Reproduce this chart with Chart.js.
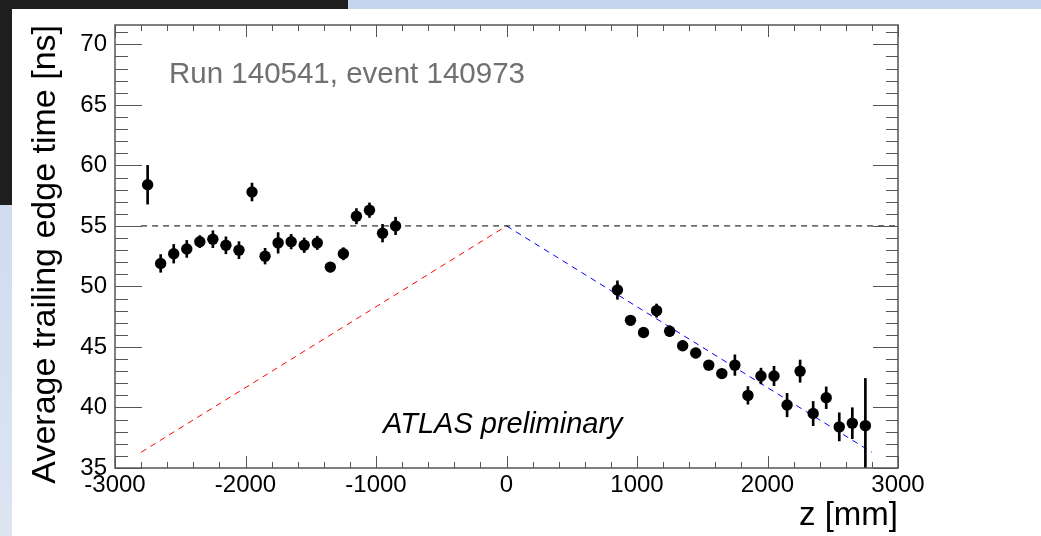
<!DOCTYPE html>
<html>
<head>
<meta charset="utf-8">
<script src="https://cdn.jsdelivr.net/npm/chart.js@4.4.1/dist/chart.umd.min.js"></script>
<style>
html, body { margin: 0; padding: 0; background: #fff; }
#wrap { position: relative; width: 1041px; height: 536px; overflow: hidden; background: #fff; }
.deco { position: absolute; }
#myChart { position: absolute; left: 0; top: 0; }
</style>
</head>
<body>
<div id="wrap">
  <div class="deco" style="left:0;top:0;width:348px;height:9px;background:#1e1e1e"></div>
  <div class="deco" style="left:348px;top:0;width:693px;height:9px;background:#c5d5ee"></div>
  <div class="deco" style="left:0;top:0;width:12px;height:205px;background:#1e1e1e"></div>
  <div class="deco" style="left:0;top:205px;width:12px;height:331px;background:linear-gradient(#cfdbef,#dde5f2)"></div>
  <canvas id="myChart" width="1041" height="536"></canvas>
</div>
<script>
// bin centres along z (mm)
const zValues = [-2750, -2650, -2550, -2450, -2350, -2250, -2150, -2050, -1950, -1850,
                 -1750, -1650, -1550, -1450, -1350, -1250, -1150, -1050, -950, -850,
                 850, 950, 1050, 1150, 1250, 1350, 1450, 1550, 1650, 1750,
                 1850, 1950, 2050, 2150, 2250, 2350, 2450, 2550, 2650, 2750];
// average trailing edge time (ns)
const tValues = [58.4, 51.9, 52.7, 53.1, 53.7, 53.9, 53.4, 53.0, 57.8, 52.5,
                 53.6, 53.7, 53.4, 53.6, 51.6, 52.7, 55.8, 56.3, 54.4, 55.0,
                 49.7, 47.2, 46.2, 48.0, 46.3, 45.1, 44.5, 43.5, 42.8, 43.5,
                 41.0, 42.6, 42.6, 40.2, 43.0, 39.5, 40.8, 38.4, 38.7, 38.5];
// errors (ns)
const tErrors = [1.6, 0.73, 0.77, 0.7, 0.5, 0.7, 0.7, 0.7, 0.74, 0.65,
                 0.85, 0.6, 0.6, 0.55, 0.4, 0.5, 0.63, 0.6, 0.73, 0.72,
                 0.76, 0.4, 0.4, 0.55, 0.45, 0.4, 0.4, 0.4, 0.4, 0.85,
                 0.73, 0.65, 0.8, 0.97, 0.92, 1.0, 0.9, 1.16, 1.28, 3.9];

// reference lines
const flatX = [-2800, 3000];
const flatY = [55, 55];
const redX = [-2800, 0];
const redY = [36.3, 55];
const blueX = [0, 2800];
const blueY = [55, 36.3];

const xTicks = [-3000, -2000, -1000, 0, 1000, 2000, 3000];
const yTicks = [35, 40, 45, 50, 55, 60, 65, 70];

const fam = "'Liberation Sans', Arial, Helvetica, sans-serif";
Chart.defaults.font.family = fam;

const toPts = (xs, ys) => xs.map((x, i) => ({ x: x, y: ys[i] }));

// ROOT style frame with ticks inside, plus the two text labels
const rootFrame = {
    id: 'rootFrame',
    afterDatasetsDraw(chart) {
        const { ctx, chartArea: a, scales: { x, y } } = chart;
        ctx.save();
        ctx.strokeStyle = '#555';
        ctx.lineWidth = 1;
        ctx.beginPath();
        for (let v = 35; v <= 71; v++) {
            const py = Math.round(y.getPixelForValue(v)) + 0.5;
            const major = v % 5 === 0;
            ctx.moveTo(a.left, py);
            ctx.lineTo(a.left + (major ? 27 : 13), py);
            ctx.moveTo(a.right, py);
            ctx.lineTo(a.right - (major ? 25 : 12), py);
        }
        for (let v = -3000; v <= 3000; v += 200) {
            const px = Math.round(x.getPixelForValue(v)) + 0.5;
            const len = v % 1000 === 0 ? 12 : 6;
            ctx.moveTo(px, a.bottom);
            ctx.lineTo(px, a.bottom - len);
            ctx.moveTo(px, a.top);
            ctx.lineTo(px, a.top + len);
        }
        ctx.stroke();
        ctx.lineWidth = 1.5;
        ctx.strokeRect(a.left, a.top, a.right - a.left, a.bottom - a.top);

        ctx.textBaseline = 'alphabetic';
        ctx.textAlign = 'left';
        ctx.fillStyle = '#707070';
        ctx.font = '29.5px ' + fam;
        ctx.fillText('Run 140541, event 140973', a.left + 54, a.top + 57.5);
        ctx.fillStyle = '#000';
        ctx.font = 'italic 29px ' + fam;
        ctx.fillText('ATLAS preliminary', a.left + 268, a.top + 408);
        ctx.restore();
    }
};

new Chart(document.getElementById('myChart'), {
    type: 'scatter',
    data: {
        datasets: [
            {
                label: 'Average time',
                data: toPts(zValues, tValues),
                backgroundColor: '#000',
                borderColor: '#000',
                borderWidth: 0,
                pointRadius: 5.7,
                pointHoverRadius: 5.7,
                order: 0
            },
            {
                type: 'bar',
                label: 'Error',
                data: zValues.map((z, i) => ({ x: z, y: [tValues[i] - tErrors[i], tValues[i] + tErrors[i]] })),
                backgroundColor: '#000',
                barThickness: 2,
                grouped: false,
                order: 1
            },
            {
                label: 'flat',
                data: toPts(flatX, flatY),
                showLine: true,
                borderColor: '#000',
                borderWidth: 1,
                borderDash: [6, 5],
                pointRadius: 0,
                order: 2
            },
            {
                label: 'red',
                data: toPts(redX, redY),
                showLine: true,
                borderColor: '#ff0000',
                borderWidth: 1,
                borderDash: [6, 5],
                pointRadius: 0,
                order: 2
            },
            {
                label: 'blue',
                data: toPts(blueX, blueY),
                showLine: true,
                borderColor: '#0000ff',
                borderWidth: 1,
                borderDash: [6, 5],
                pointRadius: 0,
                order: 2
            }
        ]
    },
    options: {
        responsive: false,
        animation: false,
        devicePixelRatio: 1,
        layout: { padding: { left: 0, top: 25, right: 143, bottom: 0 } },
        plugins: {
            legend: { display: false },
            tooltip: { enabled: false }
        },
        scales: {
            x: {
                type: 'linear',
                min: -3000,
                max: 3000,
                offset: false,
                grid: { display: false, drawTicks: false, offset: false },
                border: { display: false },
                afterBuildTicks: s => { s.ticks = xTicks.map(v => ({ value: v })); },
                afterFit: s => { s.height = 68; },
                ticks: {
                    autoSkip: false,
                    maxRotation: 0,
                    padding: 3,
                    color: '#000',
                    font: { size: 24 },
                    callback: v => String(v)
                },
                title: {
                    display: true,
                    text: 'z [mm]',
                    align: 'end',
                    color: '#000',
                    font: { size: 33 },
                    padding: { top: 0, bottom: 0 }
                }
            },
            y: {
                type: 'linear',
                min: 35,
                max: 71.6,
                grid: { display: false, drawTicks: false },
                border: { display: false },
                afterBuildTicks: s => { s.ticks = yTicks.map(v => ({ value: v })); },
                afterFit: s => { s.width = 115; },
                ticks: {
                    autoSkip: false,
                    padding: 8,
                    color: '#000',
                    font: { size: 24 },
                    callback: v => String(v)
                },
                title: {
                    display: true,
                    text: 'Average trailing edge time [ns]',
                    align: 'end',
                    color: '#000',
                    font: { size: 34 },
                    padding: { top: 25, bottom: 0 }
                }
            }
        }
    },
    plugins: [rootFrame]
});
</script>
</body>
</html>
